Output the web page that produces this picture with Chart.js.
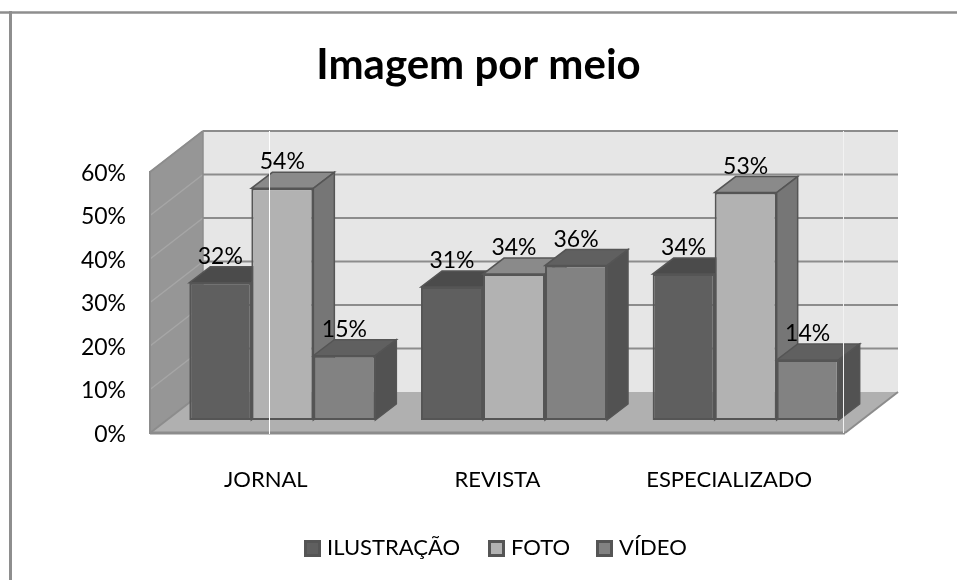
<!DOCTYPE html>
<html>
<head>
    <meta charset="UTF-8">
    <title>Imagem por meio</title>
    <script src="https://cdn.jsdelivr.net/npm/chart.js"></script>
    <style>
        body { margin: 0; background: #fff; }
        canvas { display: block; }
    </style>
</head>
<body>
<canvas id="grafico" width="957" height="580"></canvas>

<script>
    const categorias = ['JORNAL', 'REVISTA', 'ESPECIALIZADO'];
    const ilustracao = [32, 31, 34];
    const foto = [54, 34, 53];
    const video = [15, 36, 14];
    const marcasY = [0, 10, 20, 30, 40, 50, 60];

    const fonte = 'Lato, sans-serif';
    const corLinha = '#8c8c8c';
    // profundidade da parede e das barras
    const paredeDx = 53, paredeDy = -41;
    const barraDx = 21, barraDy = -16;
    const barraDeslocX = 16.5;

    const cores = [
        { frente: '#5f5f5f', topo: '#4b4b4b', lado: '#4a4a4a' },
        { frente: '#b2b2b2', topo: '#8a8a8a', lado: '#767676' },
        { frente: '#828282', topo: '#606060', lado: '#525252' }
    ];

    function poligono(ctx, pontos, fill, stroke, largura) {
        ctx.beginPath();
        pontos.forEach((p, i) => i ? ctx.lineTo(p[0], p[1]) : ctx.moveTo(p[0], p[1]));
        ctx.closePath();
        ctx.fillStyle = fill;
        ctx.fill();
        if (stroke) {
            ctx.strokeStyle = stroke;
            ctx.lineWidth = largura;
            ctx.stroke();
        }
    }

    function linha(ctx, x1, y1, x2, y2, cor, largura) {
        ctx.beginPath();
        ctx.moveTo(x1, y1);
        ctx.lineTo(x2, y2);
        ctx.strokeStyle = cor;
        ctx.lineWidth = largura;
        ctx.stroke();
    }

    const cena3d = {
        id: 'cena3d',
        beforeDraw(chart) {
            const ctx = chart.ctx;
            ctx.save();
            // moldura do gráfico
            linha(ctx, 0, 12.5, 957, 12.5, '#8e8e8e', 2.5);
            linha(ctx, 10.5, 11, 10.5, 580, '#8e8e8e', 3);
            ctx.restore();
        },
        beforeDatasetsDraw(chart) {
            const ctx = chart.ctx;
            const y = chart.scales.y;
            const { left, right, top, bottom } = chart.chartArea;
            ctx.save();

            // parede do fundo, parede esquerda, chão
            poligono(ctx, [[left + paredeDx, top + paredeDy], [right + paredeDx, top + paredeDy], [right + paredeDx, bottom + paredeDy], [left + paredeDx, bottom + paredeDy]], '#e6e6e6');
            poligono(ctx, [[left, top], [left + paredeDx, top + paredeDy], [left + paredeDx, bottom + paredeDy], [left, bottom]], '#969696');
            poligono(ctx, [[left, bottom], [right, bottom], [right + paredeDx, bottom + paredeDy], [left + paredeDx, bottom + paredeDy]], '#b0b0b0');

            marcasY.forEach(v => {
                const py = y.getPixelForValue(v);
                if (v > 0) linha(ctx, left + paredeDx, py + paredeDy, right + paredeDx, py + paredeDy, corLinha, 2);
                if (v > 0) linha(ctx, left, py, left + paredeDx, py + paredeDy, '#a6a6a6', 1.5);
                else linha(ctx, left, py, left + paredeDx, py + paredeDy, corLinha, 2);
            });
            linha(ctx, left, top - 1, left, bottom + 1, corLinha, 2);
            linha(ctx, left, top, left + paredeDx, top + paredeDy, corLinha, 2);
            linha(ctx, left + paredeDx, top + paredeDy, left + paredeDx, bottom + paredeDy, corLinha, 1.5);
            linha(ctx, left, bottom, right, bottom, corLinha, 3);
            linha(ctx, right, bottom, right + paredeDx, bottom + paredeDy, corLinha, 2);

            // barras em ordem de série, cada uma cobrindo a lateral da anterior
            ctx.save();
            ctx.translate(barraDeslocX, 0);
            chart.data.datasets.forEach((ds, d) => {
                const c = cores[d];
                chart.getDatasetMeta(d).data.forEach(el => {
                    const l = el.x - el.width / 2, r = el.x + el.width / 2;
                    poligono(ctx, [[l, el.y], [r, el.y], [r + barraDx, el.y + barraDy], [l + barraDx, el.y + barraDy]], c.topo, '#555555', 1.5);
                    poligono(ctx, [[r, el.y], [r + barraDx, el.y + barraDy], [r + barraDx, el.base + barraDy], [r, el.base]], c.lado, '#555555', 1.5);
                    el.draw(ctx);
                });
            });
            ctx.restore();

            // emendas brancas da imagem original
            linha(ctx, 269.5, top + paredeDy, 269.5, bottom + 1, '#ffffff', 1);
            linha(ctx, 843.5, top + paredeDy, 843.5, bottom, '#f2f2f2', 1);

            // rótulos de valor
            ctx.translate(barraDeslocX, 0);
            ctx.fillStyle = '#000';
            ctx.font = '23px ' + fonte;
            ctx.textAlign = 'center';
            ctx.textBaseline = 'alphabetic';
            chart.data.datasets.forEach((ds, d) => {
                chart.getDatasetMeta(d).data.forEach((el, i) => {
                    ctx.fillText(ds.data[i] + '%', el.x, el.y - 19);
                });
            });
            ctx.restore();
            return false;
        },
        afterDraw(chart) {
            // legenda com o texto colado no quadrado
            const ctx = chart.ctx;
            const xs = [304, 488, 596];
            ctx.save();
            ctx.font = '22px ' + fonte;
            ctx.textBaseline = 'middle';
            chart.data.datasets.forEach((ds, d) => {
                ctx.fillStyle = ds.backgroundColor;
                ctx.strokeStyle = '#555555';
                ctx.lineWidth = 3;
                ctx.fillRect(xs[d] + 1, 541, 15, 15);
                ctx.strokeRect(xs[d] + 1.5, 541.5, 14, 14);
                ctx.fillStyle = '#000';
                ctx.fillText(ds.label, xs[d] + 23, 548);
            });
            ctx.restore();
        }
    };

    function serie(label, data, d) {
        return {
            label: label,
            data: data,
            yAxisID: 'yBarras',
            backgroundColor: cores[d].frente,
            borderColor: '#555555',
            borderWidth: 2,
            borderSkipped: false,
            barPercentage: 1,
            categoryPercentage: 0.803
        };
    }

    new Chart(document.getElementById('grafico'), {
        type: 'bar',
        data: {
            labels: categorias,
            datasets: [
                serie('ILUSTRAÇÃO', ilustracao, 0),
                serie('FOTO', foto, 1),
                serie('VÍDEO', video, 2)
            ]
        },
        plugins: [cena3d],
        options: {
            responsive: false,
            animation: false,
            plugins: {
                legend: { display: false },
                tooltip: { enabled: false },
                title: {
                    display: true,
                    text: 'Imagem por meio',
                    color: '#000',
                    font: { family: fonte, size: 42, weight: 'bold', lineHeight: 1.2 },
                    padding: { top: 39.8, bottom: 81.8 }
                }
            },
            scales: {
                x: {
                    grid: { display: false },
                    border: { display: false },
                    ticks: { color: '#000', font: { family: fonte, size: 22 }, padding: 26, maxRotation: 0, autoSkip: false },
                    afterFit(scale) { scale.height = 147; }
                },
                y: {
                    min: 0,
                    max: 60,
                    afterBuildTicks(scale) { scale.ticks = marcasY.map(v => ({ value: v })); },
                    grid: { display: false },
                    border: { display: false },
                    ticks: { color: '#000', font: { family: fonte, size: 23 }, padding: 16, labelOffset: 1.5, callback: v => v + '%' },
                    afterFit(scale) { scale.width = 150; }
                },
                // escala das barras: o plano delas fica mais fundo que o eixo;
                // do lado direito só reserva a margem, assim o título fica centrado na página
                yBarras: {
                    position: 'right',
                    min: -3.03,
                    max: 57.8,
                    grid: { display: false },
                    border: { display: false },
                    ticks: { display: false },
                    afterFit(scale) { scale.width = 112; }
                }
            }
        }
    });
</script>
</body>
</html>
